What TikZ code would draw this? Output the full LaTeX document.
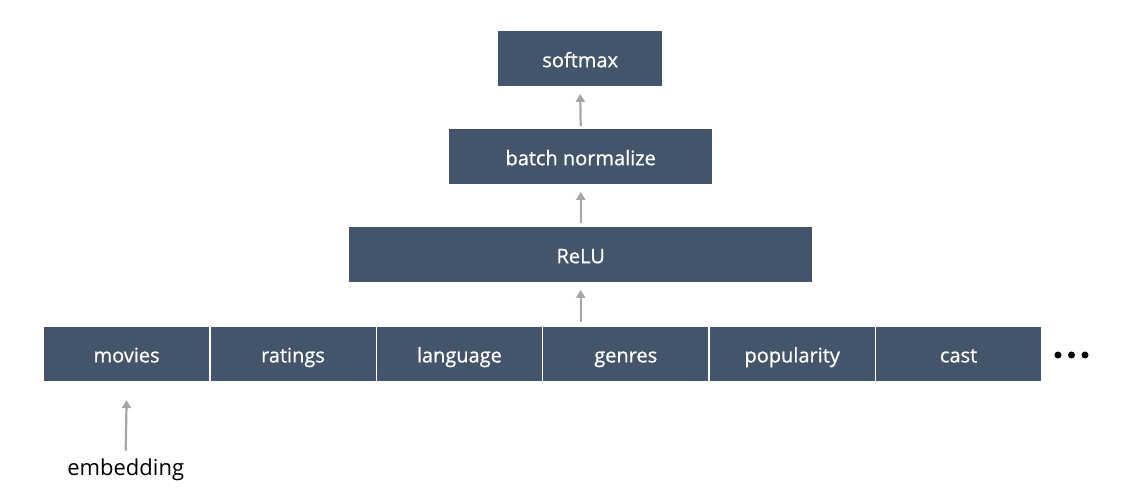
\documentclass[tikz,border=0pt]{standalone}
\usepackage{fontspec}
\setmainfont{Open Sans}
\newfontfamily\boxfont{Open Sans}[FakeBold=0.8]
\usetikzlibrary{arrows.meta}
\definecolor{boxblue}{HTML}{44546A}
\definecolor{arrowgray}{HTML}{A6A6A6}
\begin{document}
\begin{tikzpicture}[x=1pt,y=-1pt,
  lbl/.style={font=\boxfont\fontsize{20}{22}\selectfont,text height=17pt,text depth=0pt},
  blk/.style={lbl,fill=boxblue,draw=none,text=white,inner sep=0pt,anchor=north west,minimum height=55pt},
  cell/.style={lbl,fill=boxblue,draw=white,line width=1.4pt,text=white,inner sep=0pt,anchor=north west,minimum width=166.4pt,minimum height=55pt},
  uparrow/.style={draw=arrowgray,line width=2.2pt,-{Triangle[length=8pt,width=9pt]}},
  dotc/.style={fill=black,circle,inner sep=0pt,minimum size=7pt}]
\useasboundingbox (0,0) rectangle (1141,494);
\node[blk,minimum width=164pt] (soft) at (498,31) {softmax};
\node[blk,minimum width=263pt] (bn) at (449,129) {batch normalize};
\node[blk,minimum width=463pt] (relu) at (349,227) {ReLU};
\node[cell] (c1) at (42.7,325.7) {movies};
\node[cell] (c2) at (209.1,325.7) {ratings};
\node[cell] (c3) at (375.5,325.7) {language};
\node[cell] (c4) at (541.9,325.7) {genres};
\node[cell] (c5) at (708.3,325.7) {popularity};
\node[cell] (c6) at (874.7,325.7) {cast};
\node[dotc] (d1) at (1058,355) {};
\node[dotc] (d2) at (1071.5,355) {};
\node[dotc] (d3) at (1085,355) {};
\node[font=\fontsize{22}{24}\selectfont,text=black,inner sep=0pt,anchor=base] (emb) at (125.7,475.5) {embedding};
\coordinate (r3) at (relu.south |- c4.north);
\draw[uparrow] ([yshift=3pt]bn.north) -- ([yshift=-7.5pt]soft.south);
\draw[uparrow] ([yshift=4pt]relu.north) -- ([yshift=-7.5pt]bn.south);
\draw[uparrow] ([yshift=4pt]r3) -- ([yshift=-7.5pt]relu.south);
\draw[uparrow] ([yshift=8pt]emb.north) -- ([yshift=-18pt]c1.south);
\end{tikzpicture}
\end{document}
